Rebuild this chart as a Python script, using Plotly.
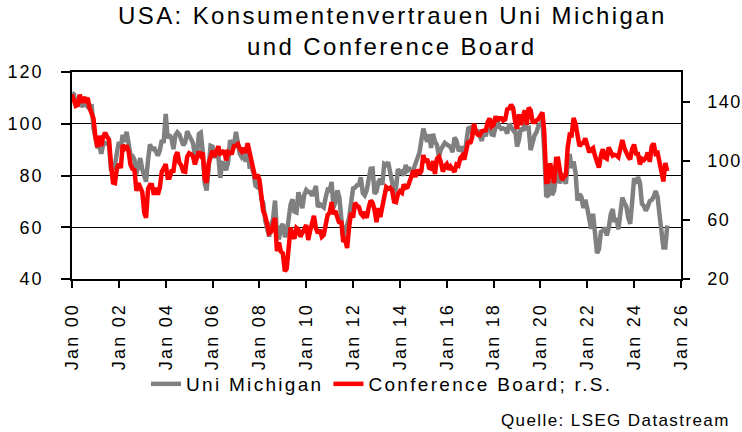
import pandas as pd
import plotly.graph_objects as go

# Monthly values Jan 2000 .. Jun 2025
umich = [
    112.0, 111.3, 107.1, 109.2, 110.7, 106.4, 108.3, 107.3, 106.8, 105.8, 107.6, 98.4,   # 2000
    94.7, 90.6, 91.5, 88.4, 92.0, 92.6, 92.4, 91.5, 81.8, 82.7, 83.9, 88.8,               # 2001
    93.0, 90.7, 95.7, 93.0, 96.9, 92.4, 88.1, 87.6, 86.1, 80.6, 84.2, 86.7,               # 2002
    82.4, 79.9, 77.6, 86.0, 92.1, 89.7, 90.9, 89.3, 87.7, 89.6, 93.7, 92.6,               # 2003
    103.8, 94.4, 95.8, 94.2, 90.2, 95.6, 96.7, 95.9, 94.2, 91.7, 92.8, 97.1,              # 2004
    95.5, 94.1, 92.6, 87.7, 86.9, 96.0, 96.5, 89.1, 76.9, 74.2, 81.6, 91.5,               # 2005
    91.2, 86.7, 88.9, 87.4, 79.1, 84.9, 84.7, 82.0, 85.4, 93.6, 92.1, 91.7,               # 2006
    96.9, 91.3, 88.4, 87.1, 88.3, 85.3, 90.4, 83.4, 83.4, 80.9, 76.1, 75.5,               # 2007
    78.4, 70.8, 69.5, 62.6, 59.8, 56.4, 61.2, 63.0, 70.3, 57.6, 55.3, 60.1,               # 2008
    61.2, 56.3, 57.3, 65.1, 68.7, 70.8, 66.0, 65.7, 73.5, 70.6, 67.4, 72.5,               # 2009
    74.4, 73.6, 73.6, 72.2, 73.6, 76.0, 67.8, 68.9, 68.2, 67.7, 71.6, 74.5,               # 2010
    74.2, 77.5, 67.5, 69.8, 74.3, 71.5, 63.7, 55.8, 59.5, 60.8, 63.7, 69.9,               # 2011
    75.0, 75.3, 76.2, 76.4, 79.3, 73.2, 72.3, 74.3, 78.3, 82.6, 82.7, 72.9,               # 2012
    73.8, 77.6, 78.6, 76.4, 84.5, 84.1, 85.1, 82.1, 77.5, 73.2, 75.1, 82.5,               # 2013
    81.2, 81.6, 80.0, 84.1, 81.9, 82.5, 81.8, 82.5, 84.6, 86.9, 88.8, 93.6,               # 2014
    98.1, 95.4, 93.0, 95.9, 90.7, 96.1, 93.1, 91.9, 87.2, 90.0, 91.3, 92.6,               # 2015
    92.0, 91.7, 91.0, 89.0, 94.7, 93.5, 90.0, 89.8, 91.2, 87.2, 93.8, 98.2,               # 2016
    98.5, 96.3, 96.9, 97.0, 97.1, 95.0, 93.4, 96.8, 95.1, 100.7, 98.5, 95.9,              # 2017
    95.7, 99.7, 101.4, 98.8, 98.0, 98.2, 97.9, 96.2, 100.1, 98.6, 97.5, 98.3,             # 2018
    91.2, 93.8, 98.4, 97.2, 100.0, 98.2, 98.4, 89.8, 93.2, 95.5, 96.8, 99.3,              # 2019
    99.8, 101.0, 89.1, 71.8, 72.3, 78.1, 72.5, 74.1, 80.4, 81.8, 76.9, 80.7,              # 2020
    79.0, 76.8, 84.9, 88.3, 82.9, 85.5, 81.2, 70.3, 72.8, 71.7, 67.4, 70.6,               # 2021
    67.2, 62.8, 59.4, 65.2, 58.4, 50.0, 51.5, 58.2, 58.6, 59.9, 56.8, 59.7,               # 2022
    64.9, 67.0, 62.0, 63.5, 59.2, 64.4, 71.5, 69.4, 68.1, 63.8, 61.3, 69.7,               # 2023
    79.0, 76.9, 79.4, 77.2, 69.1, 68.2, 66.4, 67.9, 70.1, 70.5, 71.8, 74.0,               # 2024
    71.7, 64.7, 57.0, 52.2, 52.2, 60.7,                                                   # 2025
]

conf_board = [
    144.7, 140.8, 137.1, 137.7, 144.7, 139.2, 143.0, 140.8, 142.5, 135.8, 132.6, 128.6,   # 2000
    115.7, 109.2, 116.9, 109.9, 116.1, 118.9, 116.3, 114.0, 97.0, 85.3, 84.9, 94.6,       # 2001
    97.8, 95.0, 110.7, 108.5, 110.3, 106.3, 97.4, 94.5, 93.7, 79.6, 84.9, 80.7,           # 2002
    78.8, 64.8, 61.4, 81.0, 83.6, 83.5, 77.0, 81.7, 77.0, 81.7, 92.5, 94.8,               # 2003
    97.7, 88.5, 88.5, 93.0, 93.1, 102.8, 105.7, 98.7, 96.7, 92.9, 92.6, 102.7,            # 2004
    105.1, 104.4, 103.0, 97.5, 103.1, 106.2, 103.6, 105.5, 87.5, 85.2, 98.3, 103.8,       # 2005
    106.8, 102.7, 107.5, 109.8, 104.7, 105.4, 107.0, 100.2, 105.9, 105.1, 105.3, 110.0,   # 2006
    110.2, 111.2, 108.2, 106.3, 108.5, 105.3, 111.9, 105.6, 99.5, 95.2, 87.8, 90.6,       # 2007
    87.3, 76.4, 65.9, 62.8, 58.1, 51.0, 51.9, 58.5, 61.4, 38.8, 44.7, 38.6,               # 2008
    37.4, 25.3, 26.9, 40.8, 54.8, 49.3, 47.4, 54.5, 53.4, 48.7, 50.6, 53.6,               # 2009
    56.5, 46.4, 52.3, 57.7, 62.7, 54.3, 51.0, 53.2, 48.6, 49.9, 57.8, 63.4,               # 2010
    64.8, 72.0, 63.8, 66.0, 61.7, 57.6, 59.2, 45.2, 46.4, 40.9, 55.2, 64.8,               # 2011
    61.5, 71.6, 69.5, 68.7, 64.4, 62.7, 65.4, 61.3, 68.4, 73.1, 71.5, 66.7,               # 2012
    58.4, 68.0, 61.9, 69.0, 74.3, 82.1, 81.0, 81.8, 80.2, 72.4, 72.0, 77.5,               # 2013
    79.4, 78.3, 83.9, 81.7, 82.2, 86.4, 90.3, 93.4, 89.0, 94.1, 91.0, 93.1,               # 2014
    103.8, 98.8, 101.4, 95.2, 94.6, 99.8, 91.0, 101.3, 102.6, 99.1, 92.6, 96.3,           # 2015
    97.8, 94.0, 96.1, 94.7, 92.4, 97.4, 96.7, 101.8, 103.5, 100.8, 109.4, 113.3,          # 2016
    111.6, 116.1, 124.9, 119.4, 117.6, 117.3, 120.0, 120.4, 120.6, 126.2, 128.6, 123.1,   # 2017
    124.3, 130.0, 127.0, 128.8, 128.8, 127.1, 127.9, 134.7, 135.3, 137.9, 135.7, 126.6,   # 2018
    121.7, 131.4, 124.2, 129.2, 134.1, 124.3, 135.8, 134.2, 126.3, 126.1, 126.8, 128.2,   # 2019
    130.4, 132.6, 118.8, 85.7, 85.9, 98.3, 91.7, 84.8, 101.3, 101.4, 92.9, 87.1,          # 2020
    88.9, 90.4, 109.0, 117.5, 117.2, 128.9, 125.1, 115.2, 109.8, 111.6, 111.9, 115.2,     # 2021
    111.1, 105.7, 107.6, 108.6, 103.2, 98.4, 95.3, 103.6, 107.8, 102.2, 101.4, 109.0,     # 2022
    106.0, 103.4, 104.0, 103.7, 102.5, 110.1, 114.0, 108.7, 104.3, 102.6, 101.0, 108.0,   # 2023
    110.9, 104.8, 104.7, 97.5, 101.3, 100.4, 101.9, 105.6, 99.2, 109.6, 111.7, 104.7,     # 2024
    105.3, 100.1, 92.9, 86.0, 98.4, 93.0,                                                 # 2025
]

x_tick_years = list(range(2000, 2027, 2))
x_tick_labels = [f"Jan {y % 100:02d}" for y in x_tick_years]
left_ticks = [40, 60, 80, 100, 120]
right_ticks = [20, 60, 100, 140]

title_lines = ["USA: Konsumentenvertrauen Uni Michigan", "und Conference Board"]
series_names = ["Uni Michigan", "Conference Board; r.S."]
source_text = "Quelle: LSEG Datastream"

months = pd.date_range("2000-01-01", periods=len(umich), freq="MS")

FONT = "Liberation Sans, Arial, sans-serif"


def spaced(text, px):
    return f'<span style="letter-spacing:{px}px">{text}</span>'


# plot-area geometry (pixels) used for placing free text
PL, PR, PT, PB = 72, 681, 72, 279
PW, PH = PR - PL, PB - PT

fig = go.Figure()
fig.add_trace(go.Scatter(
    x=months, y=umich, name=spaced(series_names[0], 2.3), mode="lines",
    line=dict(color="#808080", width=4.5), yaxis="y"))
fig.add_trace(go.Scatter(
    x=months, y=conf_board, name=spaced(series_names[1], 2.3), mode="lines",
    line=dict(color="#FF0000", width=4.5), yaxis="y2"))

annotations = [
    dict(text=spaced(title_lines[0], 2.4), xref="paper", yref="paper",
         x=(392 - PL) / PW, xanchor="center",
         y=1 + (PT - 15.5) / PH, yanchor="middle",
         showarrow=False, font=dict(size=24, family=FONT, color="black")),
    dict(text=spaced(title_lines[1], 2.4), xref="paper", yref="paper",
         x=(392 - PL) / PW, xanchor="center",
         y=1 + (PT - 46.5) / PH, yanchor="middle",
         showarrow=False, font=dict(size=24, family=FONT, color="black")),
    dict(text=spaced(source_text, 1.4), xref="paper", yref="paper",
         x=(732 - PL) / PW, xanchor="right",
         y=-(420.5 - PB) / PH, yanchor="middle",
         showarrow=False, font=dict(size=17, family=FONT, color="black")),
]

fig.update_layout(
    width=742, height=432,
    margin=dict(l=PL, r=742 - PR, t=PT, b=432 - PB, autoexpand=False),
    paper_bgcolor="white", plot_bgcolor="white",
    font=dict(family=FONT, color="black", size=18),
    xaxis=dict(type="date", range=["2000-01-01", "2026-01-01"],
               tickvals=[f"{y}-01-01" for y in x_tick_years],
               ticktext=[spaced(t, 2.2) for t in x_tick_labels], tickangle=-90,
               ticks="outside", ticklen=7, tickcolor="black", tickwidth=1.5,
               showline=True, linecolor="black", linewidth=1.5, mirror=True,
               showgrid=False, zeroline=False, automargin=False,
               ticklabelstandoff=8,
               tickfont=dict(size=18, family=FONT)),
    yaxis=dict(range=[40, 120], tickvals=left_ticks,
               ticktext=[spaced(str(v), 2) for v in left_ticks],
               ticks="outside", ticklen=9, tickcolor="black", tickwidth=1.5,
               showline=True, linecolor="black", linewidth=1.5,
               showgrid=True, gridcolor="black", gridwidth=1,
               zeroline=False, ticklabelstandoff=14, automargin=False,
               tickfont=dict(size=18, family=FONT)),
    yaxis2=dict(range=[20, 160], tickvals=right_ticks,
                ticktext=[spaced(str(v), 1.5) for v in right_ticks],
                overlaying="y", side="right",
                ticks="outside", ticklen=7, tickcolor="black", tickwidth=1.5,
                showline=True, linecolor="black", linewidth=1.5,
                showgrid=False, zeroline=False, ticklabelstandoff=14,
                automargin=False,
                tickfont=dict(size=18, family=FONT)),
    legend=dict(orientation="h", xref="container", yref="container",
                x=382 / 742, xanchor="center",
                y=1 - 384 / 432, yanchor="middle",
                font=dict(size=19, family=FONT), bgcolor="rgba(0,0,0,0)"),
    showlegend=True,
    annotations=annotations,
)

fig.write_html(
    "out.html",
    config={"displayModeBar": False},
    post_script="document.body.style.margin='0';document.body.style.overflow='hidden';",
)
